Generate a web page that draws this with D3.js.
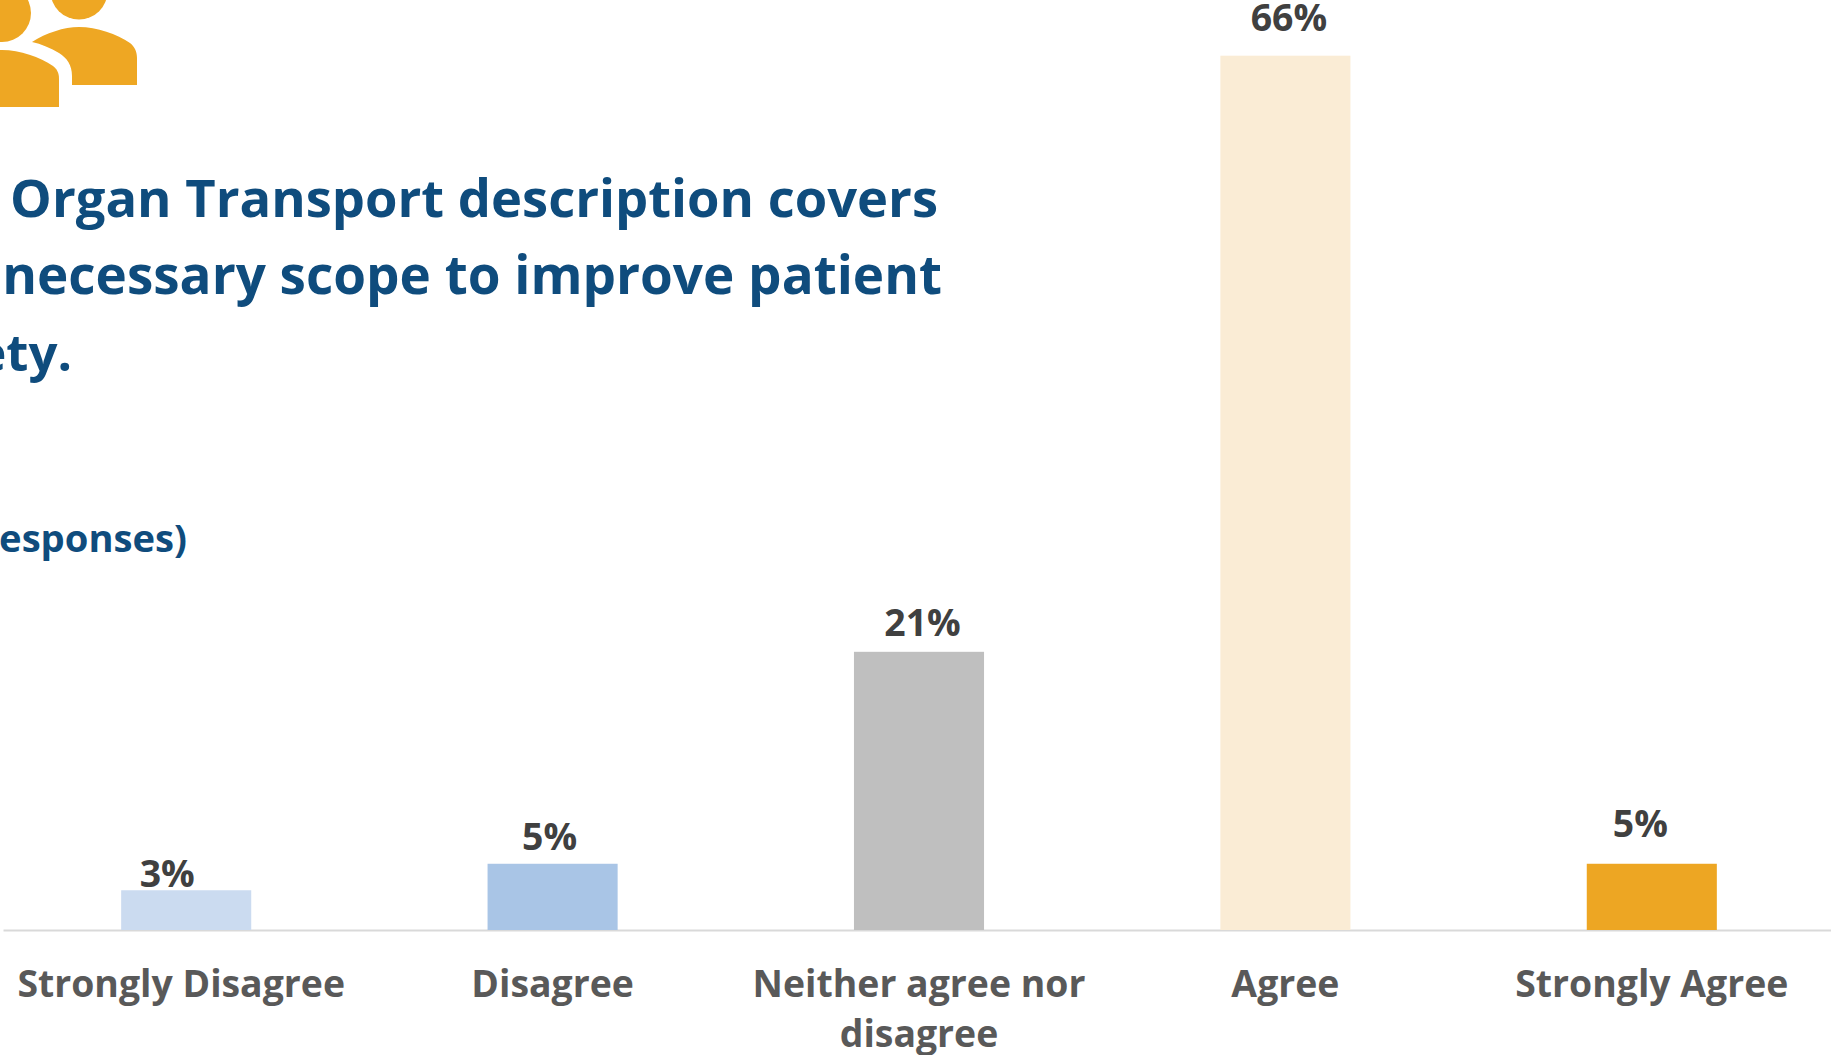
<!DOCTYPE html>
<html><head><meta charset="utf-8">
<script src="https://cdn.jsdelivr.net/npm/d3@7/dist/d3.min.js"></script>
<style>html,body{margin:0;padding:0;background:#fff;overflow:hidden}svg{display:block}text{font-family:"Open Sans",sans-serif;font-weight:700}</style>
</head><body><svg id="c" width="1831" height="1055"></svg>
<script>
const categories = ["Strongly Disagree","Disagree","Neither agree nor disagree","Agree","Strongly Agree"];
const values = [3,5,21,66,5];
const valueLabels = ["3%","5%","21%","66%","5%"];
const barColors = ["#CBDBF0","#A9C5E6","#BFBFBF","#FAECD5","#EDA623"];
const titleLines = ["Organ Transport description covers","necessary scope to improve patient","safety."];
const subtitle = "responses)";

const svg = d3.select("#c");
const W = 1831, baseY = 930;
const x = d3.scaleBand().domain(categories).range([3,1835]).paddingInner(0.645).paddingOuter(0.3225);
const y = d3.scaleLinear().domain([0,66]).range([baseY,55.7]);

// icon
const icon = svg.append("g").attr("fill","#EEA723");
icon.append("circle").attr("cx",79).attr("cy",-9).attr("r",28.5);
icon.append("path").attr("d","M32 42C46 33 64 27 79 27C97 27 117 34 130 43C135 47 137 52 137 58L137 85L72 85L72 76C72 65 67 58 59 53C51 48 41 44 32 42Z");
icon.append("circle").attr("cx",2).attr("cy",13).attr("r",29);
icon.append("path").attr("d","M-60 107L-60 75C-40 60 -15 50 2 50C20 50 40 57 53 66C57 69 59 73 59 79L59 107Z");

// title
const titleG = svg.append("g").attr("fill","#0F4C7D").attr("text-anchor","end");
const titleEnds = [938,942,72], titleBase = [217,294,371], titleSize = [52.5,53,51];
titleG.selectAll("text").data(titleLines).join("text")
 .attr("x",(d,i)=>titleEnds[i]).attr("y",(d,i)=>titleBase[i]).attr("font-size",(d,i)=>titleSize[i]).text(d=>d);
svg.append("text").attr("x",187).attr("y",552).attr("text-anchor","end").attr("fill","#0F4C7D").attr("font-size",38.2).text(subtitle);

// baseline axis
const axis = d3.axisBottom(x).tickSize(0).tickPadding(0);
const ax = svg.append("g").attr("transform",`translate(0,${baseY})`).call(axis);
ax.select(".domain").attr("stroke","#D9D9D9").attr("stroke-width",2);
ax.selectAll(".tick text").attr("fill","#595959").attr("font-size",37.4).attr("font-family",null).attr("y",67).attr("dy",0)
 .attr("dx",(d,i)=>i===0?-5:0)
 .each(function(d){
   const t=d3.select(this); const m=d.match(/^(Neither agree nor) (disagree)$/);
   if(m){t.text(null);t.append("tspan").attr("x",0).text(m[1]);t.append("tspan").attr("x",0).attr("dy",50).text(m[2]);}
 });

// bars
svg.append("g").selectAll("rect").data(values).join("rect")
 .attr("x",(d,i)=>x(categories[i])).attr("width",x.bandwidth())
 .attr("y",d=>y(d)).attr("height",d=>baseY-y(d)).attr("fill",(d,i)=>barColors[i]);

// value labels (nudges as placed in the source)
const dx=[-19,-3,3.5,3.5,-11.5], lift=[3.5,14,16,25,27];
svg.append("g").attr("text-anchor","middle").attr("fill","#404040").selectAll("text").data(values).join("text")
 .attr("x",(d,i)=>x(categories[i])+x.bandwidth()/2+dx[i]).attr("y",(d,i)=>y(d)-lift[i]).attr("font-size",37.4).text((d,i)=>valueLabels[i]);
</script></body></html>
